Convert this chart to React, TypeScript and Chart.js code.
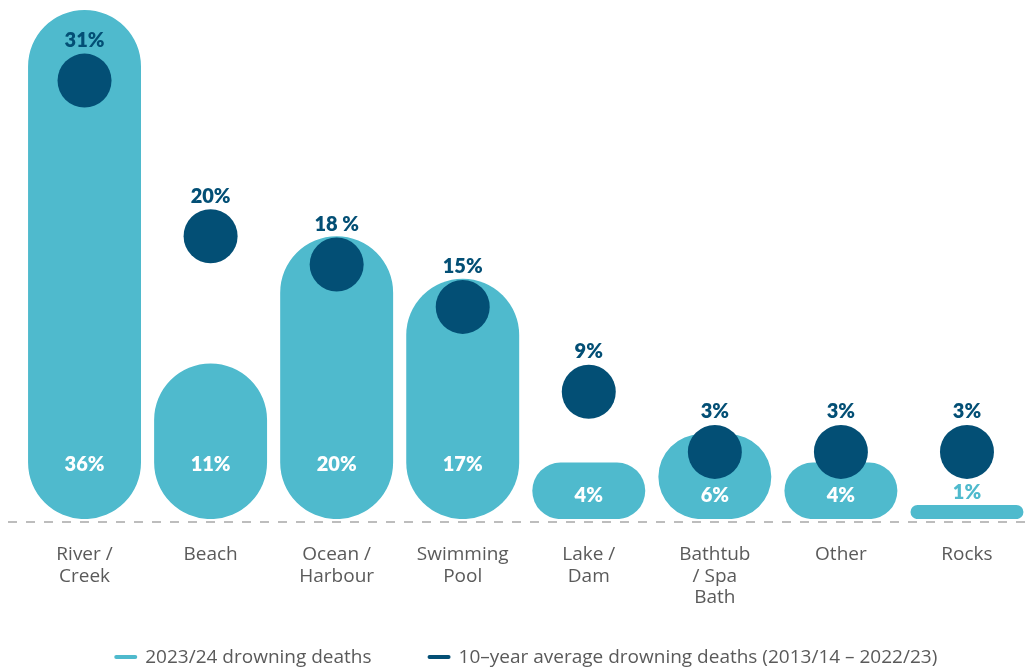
import React, { useEffect, useRef } from "react";
import { Chart, registerables } from "chart.js";

Chart.register(...registerables);

// ---- data ----
const categories: string[][] = [
  ["River /", "Creek"],
  ["Beach"],
  ["Ocean /", "Harbour"],
  ["Swimming", "Pool"],
  ["Lake /", "Dam"],
  ["Bathtub", "/ Spa", "Bath"],
  ["Other"],
  ["Rocks"],
];
const deaths2023_24: number[] = [36, 11, 20, 17, 4, 6, 4, 1];
const avg10Year: number[] = [31, 20, 18, 15, 9, 3, 3, 3];
const avg10YearLabels: string[] = ["31%", "20%", "18 %", "15%", "9%", "3%", "3%", "3%"];
// level at which each average marker is drawn in the original (small values lifted clear of the bar labels)
const avgMarkerLevel: number[] = [31, 20, 18, 15, 9, 4.75, 4.75, 4.75];
const seriesNames: string[] = [
  "2023/24 drowning deaths",
  "10\u2013year average drowning deaths (2013/14 \u2013 2022/23)",
];

// ---- styles ----
const BAR = "#4fbacd";
const DOT = "#034f75";
const GREY_TEXT = "#5a5a5a";
const VALUE_FONT = '800 20px Lato, "DejaVu Sans", sans-serif';
const TEXT_FAMILY = '"Open Sans", "Noto Sans", sans-serif';

const dashedBaseline = {
  id: "dashedBaseline",
  beforeDatasetsDraw(chart: any) {
    const { ctx, chartArea } = chart;
    ctx.save();
    ctx.strokeStyle = "#bdbdbd";
    ctx.lineWidth = 2;
    ctx.setLineDash([9, 9]);
    const y = chartArea.bottom + 3;
    ctx.beginPath();
    ctx.moveTo(8, y);
    ctx.lineTo(chart.width, y);
    ctx.stroke();
    ctx.restore();
  },
};

const valueLabels = {
  id: "valueLabels",
  afterDatasetsDraw(chart: any) {
    const { ctx } = chart;
    ctx.save();
    ctx.font = VALUE_FONT;
    ctx.textAlign = "center";
    ctx.textBaseline = "middle";
    const bars = chart.getDatasetMeta(0).data;
    bars.forEach((bar: any, i: number) => {
      const { x, y, base } = bar.getProps(["x", "y", "base"], true);
      const h = base - y;
      let ty: number;
      let color = "#ffffff";
      if (h < 30) {
        ty = y - 12;
        color = BAR;
      } else if (h < 100) {
        ty = base - 24;
      } else {
        ty = base - 54.5;
      }
      ctx.fillStyle = color;
      ctx.fillText(`${deaths2023_24[i]}%`, x, ty);
    });
    const dots = chart.getDatasetMeta(1).data;
    ctx.fillStyle = DOT;
    dots.forEach((pt: any, i: number) => {
      const { x, y } = pt.getProps(["x", "y"], true);
      ctx.fillText(avg10YearLabels[i], x, y - 40);
    });
    ctx.restore();
  },
};

const bottomLegend = {
  id: "bottomLegend",
  afterDraw(chart: any) {
    const { ctx, chartArea } = chart;
    ctx.save();
    ctx.font = `19px ${TEXT_FAMILY}`;
    ctx.textBaseline = "middle";
    ctx.textAlign = "left";
    const colors = [BAR, DOT];
    const mk = 23;
    const gapText = 8;
    const gapItem = 56;
    const widths = seriesNames.map((t) => ctx.measureText(t).width);
    const total = widths.reduce((a, w) => a + mk + gapText + w, 0) + gapItem * (widths.length - 1);
    let x = (chartArea.left + chartArea.right) / 2 - total / 2;
    const y = chart.height - 12;
    seriesNames.forEach((name, i) => {
      ctx.strokeStyle = colors[i];
      ctx.lineWidth = 4;
      ctx.lineCap = "round";
      ctx.beginPath();
      ctx.moveTo(x + 2, y);
      ctx.lineTo(x + mk - 2, y);
      ctx.stroke();
      ctx.fillStyle = GREY_TEXT;
      ctx.fillText(name, x + mk + gapText, y + 1);
      x += mk + gapText + widths[i] + gapItem;
    });
    ctx.restore();
  },
};

export default function App() {
  const canvasRef = useRef<HTMLCanvasElement | null>(null);

  useEffect(() => {
    if (!canvasRef.current) return;
    const chart = new Chart(canvasRef.current, {
      type: "bar",
      data: {
        labels: categories as any,
        datasets: [
          {
            type: "bar",
            label: seriesNames[0],
            data: deaths2023_24,
            backgroundColor: BAR,
            borderWidth: 0,
            borderSkipped: false,
            borderRadius: { topLeft: 300, topRight: 300, bottomLeft: 300, bottomRight: 300 },
            barPercentage: 0.896,
            categoryPercentage: 1,
            order: 1,
          } as any,
          {
            type: "line",
            label: seriesNames[1],
            data: avgMarkerLevel,
            showLine: false,
            pointRadius: 27,
            pointHoverRadius: 27,
            pointBackgroundColor: DOT,
            pointBorderWidth: 0,
            pointHoverBorderWidth: 0,
            borderColor: DOT,
            backgroundColor: DOT,
            clip: false,
            order: 0,
          } as any,
        ],
      },
      options: {
        responsive: false,
        animation: false,
        events: [],
        layout: { autoPadding: false, padding: { left: 21.5, right: 3, top: 0, bottom: 35.5 } },
        plugins: {
          legend: { display: false },
          tooltip: { enabled: false },
        },
        scales: {
          x: {
            offset: true,
            grid: { display: false, drawTicks: false },
            border: { display: false },
            ticks: {
              color: GREY_TEXT,
              font: { family: TEXT_FAMILY, size: 19, lineHeight: 1.13 },
              padding: 25,
              autoSkip: false,
              maxRotation: 0,
              minRotation: 0,
            },
          },
          y: {
            display: false,
            min: 0,
            max: 36.7,
          },
        },
      } as any,
      plugins: [dashedBaseline, valueLabels, bottomLegend],
    });
    let alive = true;
    if ((document as any).fonts && (document as any).fonts.ready) {
      (document as any).fonts.ready.then(() => {
        if (alive) chart.update();
      });
    }
    return () => {
      alive = false;
      chart.destroy();
    };
  }, []);

  return (
    <div style={{ position: "absolute", left: 0, top: 0, width: 1033, height: 669, background: "#fff" }}>
      <canvas ref={canvasRef} width={1033} height={669} style={{ display: "block", width: 1033, height: 669 }} />
    </div>
  );
}
